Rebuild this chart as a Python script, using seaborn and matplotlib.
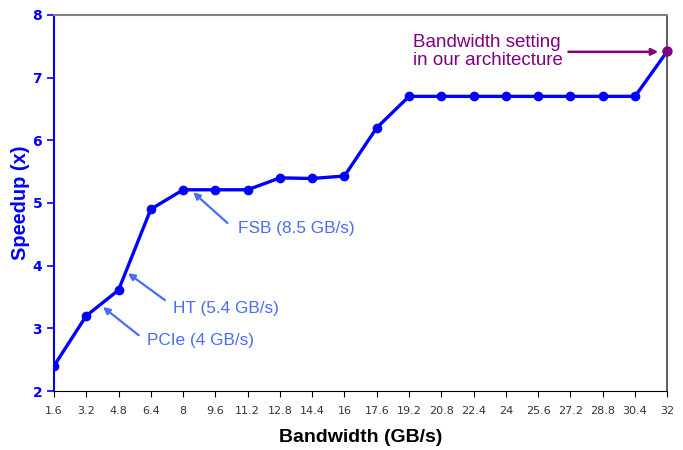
import seaborn as sns
import matplotlib.pyplot as plt
import pandas as pd

bandwidth = [1.6, 3.2, 4.8, 6.4, 8, 9.6, 11.2, 12.8, 14.4, 16, 17.6, 19.2,
             20.8, 22.4, 24, 25.6, 27.2, 28.8, 30.4, 32]
speedup = [2.4, 3.2, 3.61, 4.9, 5.21, 5.21, 5.21, 5.4, 5.39, 5.43, 6.2, 6.7,
           6.7, 6.7, 6.7, 6.7, 6.7, 6.7, 6.7, 7.42]
tick_labels = ["1.6", "3.2", "4.8", "6.4", "8", "9.6", "11.2", "12.8", "14.4", "16",
               "17.6", "19.2", "20.8", "22.4", "24", "25.6", "27.2", "28.8", "30.4", "32"]

sns.set_style("ticks")
plt.rcParams['font.family'] = ['Liberation Sans', 'DejaVu Sans']

df = pd.DataFrame({'Bandwidth': bandwidth, 'Speedup': speedup})

fig = plt.figure(figsize=(6.83, 4.5), dpi=100)
ax = fig.add_axes([0.079, 0.131, 0.898, 0.836])

sns.lineplot(data=df, x='Bandwidth', y='Speedup', ax=ax, color='#0000ff',
             linewidth=2.4, marker='o', markersize=7, markeredgewidth=0)
# our architecture point in purple
sns.scatterplot(data=df.iloc[[-1]], x='Bandwidth', y='Speedup', ax=ax,
                color='#800080', s=55, linewidth=0, zorder=5, clip_on=False)

ax.set_xlim(1.6, 32)
ax.set_ylim(2, 8)
ax.set_xticks(bandwidth)
ax.set_xticklabels(tick_labels, fontsize=8, color='#333333', family='DejaVu Sans')
ax.set_yticks(range(2, 9))
ax.tick_params(axis='y', colors='#0000ff', labelsize=10, length=5, width=1.2)
ax.tick_params(axis='x', colors='black', labelcolor='#333333', length=4, pad=7)
for lab in ax.get_yticklabels():
    lab.set_fontweight('bold')
    lab.set_family('DejaVu Sans')

for s in ax.spines.values():
    s.set_visible(True)
ax.spines['left'].set_color('#0000ff')
ax.spines['left'].set_linewidth(1.5)
ax.spines['bottom'].set_color('black')
ax.spines['top'].set_color('#808080')
ax.spines['right'].set_color('#404040')
ax.spines['top'].set_linewidth(1.5)
ax.spines['right'].set_linewidth(1.2)

ax.set_xlabel('Bandwidth (GB/s)', fontsize=14, fontweight='bold', color='black', labelpad=9)
ax.set_ylabel('Speedup (x)', fontsize=14.4, fontweight='bold', color='#0000ff', labelpad=2)

light = '#4a6cf7'
arrow = dict(arrowstyle='-|>', color=light, lw=1.6, mutation_scale=10, shrinkA=0, shrinkB=0)
ax.annotate('', xy=(4.03, 3.34), xytext=(5.8, 2.89), arrowprops=arrow)
ax.text(6.2, 2.81, 'PCIe (4 GB/s)', color=light, fontsize=12.4, va='center')
ax.annotate('', xy=(5.27, 3.88), xytext=(7.1, 3.45), arrowprops=arrow)
ax.text(7.5, 3.32, 'HT (5.4 GB/s)', color=light, fontsize=12.4, va='center')
ax.annotate('', xy=(8.5, 5.17), xytext=(10.2, 4.68), arrowprops=arrow)
ax.text(10.7, 4.6, 'FSB (8.5 GB/s)', color=light, fontsize=12.4, va='center')

ax.annotate('', xy=(31.55, 7.41), xytext=(27.1, 7.41),
            arrowprops=dict(arrowstyle='-|>', color='#800080', lw=1.8,
                            mutation_scale=10, shrinkA=0, shrinkB=0))
ax.text(19.4, 7.41, 'Bandwidth setting\nin our architecture', color='#800080',
        fontsize=13.5, va='center', linespacing=1.1)

plt.savefig('out.png', dpi=100)
